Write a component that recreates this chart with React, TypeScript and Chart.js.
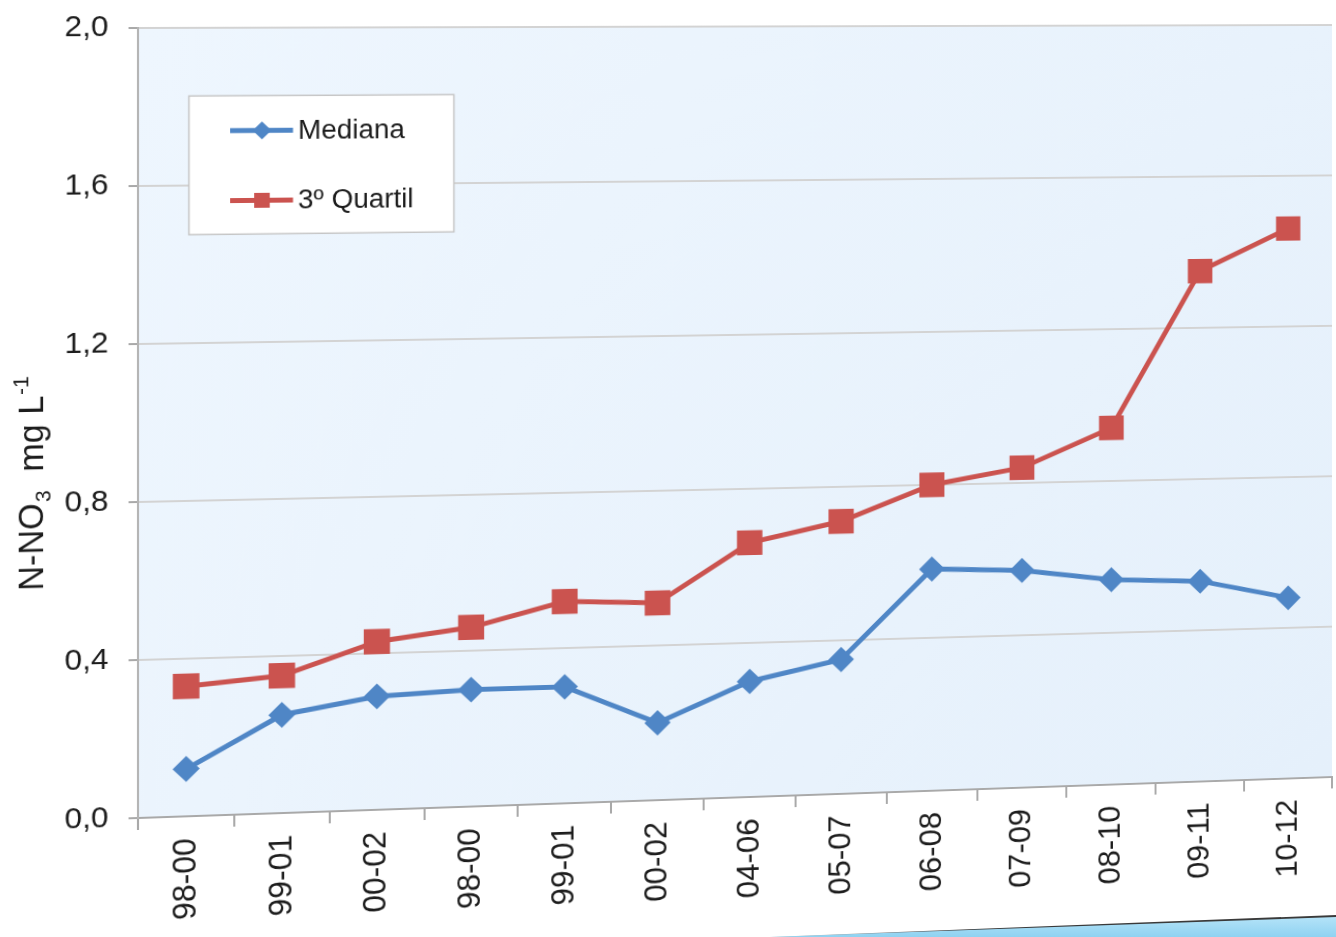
import React, { useEffect, useRef } from 'react';
import { Chart, registerables } from 'chart.js';

Chart.register(...registerables);

// ---- data ----
const categories = ['98-00', '99-01', '00-02', '98-00', '99-01', '00-02', '04-06', '05-07', '06-08', '07-09', '08-10', '09-11', '10-12'];
const seriesNames = ['Mediana', '3º Quartil'];
const mediana = [0.12, 0.25, 0.29, 0.30, 0.30, 0.20, 0.30, 0.35, 0.58, 0.57, 0.54, 0.53, 0.48];
const quartil3 = [0.33, 0.35, 0.43, 0.46, 0.52, 0.51, 0.66, 0.71, 0.80, 0.84, 0.94, 1.35, 1.46];
const yMin = 0;
const yMax = 2;
const yStep = 0.4;
const yTitleParts = ['N-NO', '3', '  mg L', '-1'];

// ---- styles ----
const FONT = '"Liberation Sans", Arial, Helvetica, sans-serif';
const BLUE = '#4F86C6';
const RED = '#CB534F';
const TEXT = '#1c1c1c';
const AXIS = '#a9a9a9';
const GRID = '#d3d3d3';

const bgPlugin = {
  id: 'plotBg',
  beforeDraw(chart: any) {
    const { ctx, chartArea: a } = chart;
    const g = ctx.createLinearGradient(a.left, a.top, a.right, a.bottom);
    g.addColorStop(0, '#eef6fe');
    g.addColorStop(1, '#e5f0fb');
    ctx.save();
    ctx.fillStyle = g;
    ctx.fillRect(a.left, a.top, a.right - a.left, a.bottom - a.top);
    ctx.restore();
  },
};

const legendPlugin = {
  id: 'boxLegend',
  afterDatasetsDraw(chart: any) {
    const { ctx, chartArea: a } = chart;
    const bx = a.left + 48.6;
    const by = a.top + 68.3;
    const bw = 256;
    const bh = 139;
    ctx.save();
    ctx.fillStyle = '#ffffff';
    ctx.fillRect(bx, by, bw, bh);
    ctx.strokeStyle = '#c6c6c6';
    ctx.lineWidth = 1.5;
    ctx.strokeRect(bx, by, bw, bh);
    const rows = [a.top + 103.3, a.top + 173.5];
    chart.data.datasets.forEach((ds: any, i: number) => {
      const y = rows[i];
      const x0 = a.left + 88;
      const x1 = a.left + 148.5;
      const xc = a.left + 118.6;
      ctx.strokeStyle = ds.borderColor;
      ctx.lineWidth = 5;
      ctx.beginPath();
      ctx.moveTo(x0, y);
      ctx.lineTo(x1, y);
      ctx.stroke();
      ctx.fillStyle = ds.backgroundColor;
      if (ds.pointStyle === 'rectRot') {
        const r = 9;
        ctx.beginPath();
        ctx.moveTo(xc, y - r);
        ctx.lineTo(xc + r, y);
        ctx.lineTo(xc, y + r);
        ctx.lineTo(xc - r, y);
        ctx.closePath();
        ctx.fill();
      } else {
        const s = 15;
        ctx.fillRect(xc - s / 2, y - s / 2, s, s);
      }
      ctx.fillStyle = TEXT;
      ctx.font = `27px ${FONT}`;
      ctx.textAlign = 'left';
      ctx.textBaseline = 'middle';
      ctx.fillText(ds.label, a.left + 153.3, y + 1);
    });
    ctx.restore();
  },
};

const titlePlugin = {
  id: 'yTitle',
  afterDraw(chart: any) {
    const { ctx } = chart;
    ctx.save();
    ctx.translate(48, 588);
    ctx.rotate(-Math.PI / 2);
    ctx.fillStyle = TEXT;
    ctx.textAlign = 'left';
    ctx.textBaseline = 'alphabetic';
    let x = 0;
    const big = `34px ${FONT}`;
    const small = `21px ${FONT}`;
    ctx.font = big;
    ctx.fillText(yTitleParts[0], x, 0);
    x += ctx.measureText(yTitleParts[0]).width + 1;
    ctx.font = small;
    ctx.fillText(yTitleParts[1], x, 7);
    x += ctx.measureText(yTitleParts[1]).width;
    ctx.font = big;
    ctx.fillText(yTitleParts[2], x, 0);
    x += ctx.measureText(yTitleParts[2]).width + 1;
    ctx.font = small;
    ctx.fillText(yTitleParts[3], x, -14);
    ctx.restore();
  },
};

// perspective of the photographed slide (layout only)
const PERSP = 'matrix3d(1.0505, -0.00264, 0, 0.0000423, 0, 1, 0, 0, 0, 0, 1, 0, 0, 0, 0, 1)';

export default function App() {
  const ref = useRef<HTMLCanvasElement>(null);

  useEffect(() => {
    const canvas = ref.current;
    if (!canvas) return;
    const chart = new Chart(canvas, {
      type: 'line',
      data: {
        labels: categories,
        datasets: [
          {
            label: seriesNames[0],
            data: mediana,
            borderColor: BLUE,
            backgroundColor: BLUE,
            borderWidth: 5,
            pointStyle: 'rectRot',
            pointRadius: 13,
            pointHoverRadius: 13,
            pointBorderWidth: 0,
            tension: 0,
          },
          {
            label: seriesNames[1],
            data: quartil3,
            borderColor: RED,
            backgroundColor: RED,
            borderWidth: 5,
            pointStyle: 'rect',
            pointRadius: 18,
            pointHoverRadius: 18,
            pointBorderWidth: 0,
            tension: 0,
          },
        ],
      },
      options: {
        responsive: false,
        animation: false,
        devicePixelRatio: 1,
        layout: { autoPadding: false, padding: { left: 0, top: 28, right: 4, bottom: 0 } },
        plugins: { legend: { display: false }, tooltip: { enabled: false } },
        scales: {
          x: {
            offset: true,
            grid: { offset: true, drawOnChartArea: false, tickLength: 12, tickColor: AXIS, lineWidth: 2 },
            border: { color: AXIS, width: 2 },
            ticks: {
              autoSkip: false,
              minRotation: 90,
              maxRotation: 90,
              padding: 10,
              color: TEXT,
              font: { family: FONT, size: 32 },
            },
            afterFit: (s: any) => {
              s.height = 119;
              s.paddingLeft = 0;
              s.paddingRight = 0;
              s.paddingTop = 0;
              s.paddingBottom = 0;
            },
          },
          y: {
            min: yMin,
            max: yMax,
            ticks: {
              stepSize: yStep,
              padding: 19,
              color: TEXT,
              font: { family: FONT, size: 30 },
              callback: (v: any) => Number(v).toFixed(1).replace('.', ','),
            },
            grid: { color: GRID, lineWidth: 2, tickLength: 9, tickColor: AXIS },
            border: { color: '#b5b5b5', width: 2 },
            afterFit: (s: any) => {
              s.width = 138;
              s.paddingLeft = 0;
              s.paddingRight = 0;
              s.paddingTop = 0;
              s.paddingBottom = 0;
            },
          },
        },
      },
      plugins: [bgPlugin, legendPlugin, titlePlugin],
    });
    return () => chart.destroy();
  }, []);

  return (
    <div style={{ position: 'fixed', left: 0, top: 0, width: 1336, height: 937, background: '#ffffff', overflow: 'hidden' }}>
      <canvas
        ref={ref}
        width={1336}
        height={937}
        style={{
          position: 'absolute',
          left: 0,
          top: 0,
          width: 1336,
          height: 937,
          transformOrigin: '138px 28px',
          transform: PERSP,
        }}
      />
      <div
        style={{
          position: 'absolute',
          left: 770,
          top: 915,
          width: 566,
          height: 22,
          background: 'linear-gradient(90deg, #d8d8d8 0%, #3a3a3a 35%, #3a3a3a 100%)',
          clipPath: 'polygon(0% 100%, 100% 0%, 100% 100%)',
        }}
      />
      <div
        style={{
          position: 'absolute',
          left: 770,
          top: 917,
          width: 566,
          height: 20,
          background: 'linear-gradient(180deg, #b4e3f8 0%, #8fd2f1 100%)',
          clipPath: 'polygon(0% 100%, 100% 0%, 100% 100%)',
        }}
      />
    </div>
  );
}
